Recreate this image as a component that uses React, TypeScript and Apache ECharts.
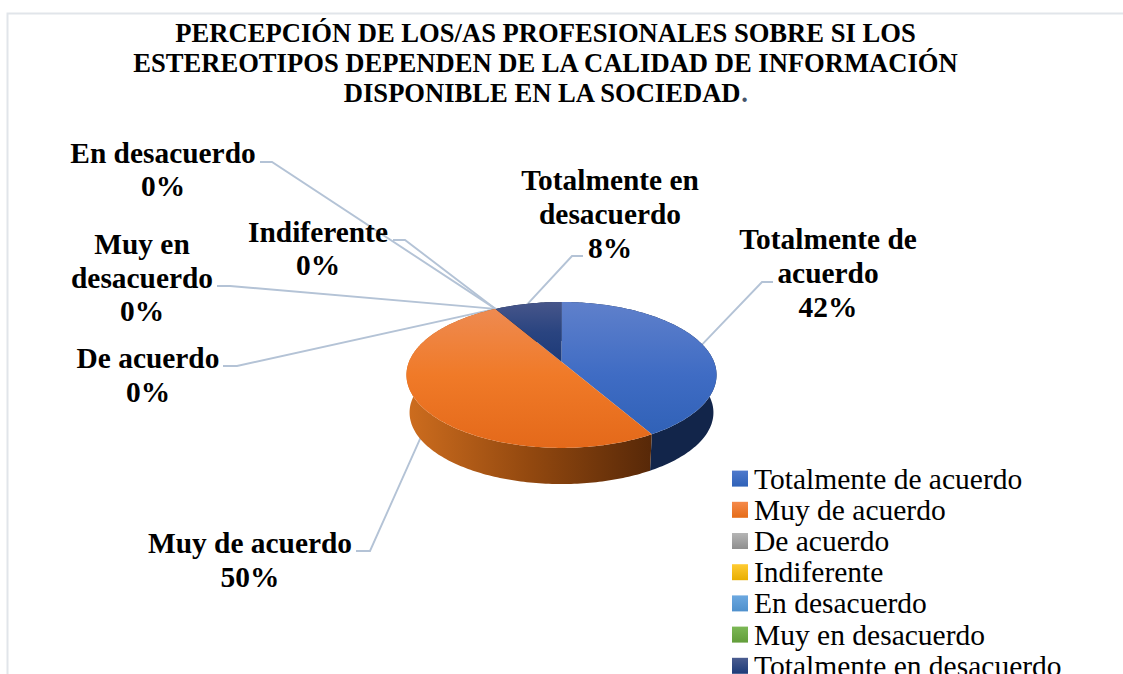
import React, { useEffect, useRef } from "react";
import * as echarts from "echarts";

const categories = [
  "Totalmente de acuerdo",
  "Muy de acuerdo",
  "De acuerdo",
  "Indiferente",
  "En desacuerdo",
  "Muy en desacuerdo",
  "Totalmente en desacuerdo",
];
const values = [5, 6, 0, 0, 0, 0, 1];
const labelTexts = [
  "Totalmente de\nacuerdo",
  "Muy de acuerdo",
  "De acuerdo",
  "Indiferente",
  "En desacuerdo",
  "Muy en\ndesacuerdo",
  "Totalmente en\ndesacuerdo",
];
const titleLines = [
  "PERCEPCIÓN DE LOS/AS PROFESIONALES SOBRE SI LOS",
  "ESTEREOTIPOS DEPENDEN DE LA CALIDAD DE INFORMACIÓN",
  "DISPONIBLE EN LA SOCIEDAD",
];

// layout
const SERIF = '"Liberation Serif", "Times New Roman", serif';
const CX = 561.5, CY = 361.8, RX = 152.5, RY = 70.6, K = 0.18;
const DEPTH = 37.9, BOTTOM_SCALE = 0.98;
const LEADER = "#b4c3d6";
const labelPos = [
  [828, 273], [250, 560], [148, 375], [318, 248.5], [163, 169.5], [142, 277.5], [610, 214],
];
const elbows = [
  [[762, 282], [773, 282]],
  [[370, 551], [356, 551]],
  [[237, 366], [223, 366]],
  [[405, 240], [393, 240]],
  [[272, 162], [260, 162]],
  [[230, 286], [217, 286]],
  [[572, 256], [583, 256]],
];
const anchorRadius = [1, 0.85, 1, 1, 1, 1, 1];

const topFill = [
  ["#5f80cb", "#3f6cc4", "#2d5fb4"],
  ["#ee8c55", "#f07a28", "#e4691a"],
  ["#b0b0b0", "#a5a5a5", "#909090"],
  ["#ffcf40", "#ffc000", "#e5ac00"],
  ["#78aee0", "#5b9bd5", "#4a88c2"],
  ["#80bb5a", "#70ad47", "#5f9a38"],
  ["#47568a", "#2a4480", "#1c3a78"],
];
const topGradientEnd = [448, 448, 448, 448, 448, 448, 362];
const wallFill = [
  ["#152a52", "#14284e", "#12254a"],
  ["#cc6c1e", "#92480f", "#572808"],
  ["#888888", "#666666", "#444444"],
  ["#bb8c00", "#997000", "#705200"],
  ["#446f9a", "#355a80", "#254060"],
  ["#527f34", "#406428", "#2f4a1c"],
  ["#101f40", "#101f40", "#101f40"],
];
const legendFill = [
  ["#4f79cc", "#2f62b8"],
  ["#f58a4b", "#e56c17"],
  ["#b5b5b5", "#8f8f8f"],
  ["#ffcb33", "#e8ae00"],
  ["#6ca8e0", "#4f90cc"],
  ["#7cb855", "#629d3a"],
  ["#4a5c90", "#1c3a78"],
];

const total = values.reduce((a, b) => a + b, 0);

function project(deg: number, r = 1) {
  const t = (deg * Math.PI) / 180;
  const X = Math.sin(t) * r;
  const Z = Math.cos(t) * r;
  const s = 1 / (1 + K * Z);
  return [CX + RX * X * s, CY - RY * Z * s];
}
function lowered(p: number[]) {
  return [CX + (p[0] - CX) * BOTTOM_SCALE, CY + (p[1] - CY) * BOTTOM_SCALE + DEPTH];
}
function arc(a0: number, a1: number) {
  const pts: number[][] = [];
  const n = Math.max(1, Math.ceil(Math.abs(a1 - a0)));
  for (let i = 0; i <= n; i++) pts.push(project(a0 + ((a1 - a0) * i) / n));
  return pts;
}
function grad(x0: number, y0: number, x1: number, y1: number, c: string[]) {
  const stops = c.map((color, i) => ({ offset: i / (c.length - 1), color }));
  return new echarts.graphic.LinearGradient(x0, y0, x1, y1, stops, true as any);
}

function makeRenderItem(idx: number) {
  return (_params: any, api: any) => {
    const value = api.value(0);
    const before = values.slice(0, idx).reduce((a, b) => a + b, 0);
    const a0 = (before / total) * 360;
    const a1 = ((before + value) / total) * 360;
    const mid = (a0 + a1) / 2;
    const children: any[] = [];

    const anchor = project(mid, anchorRadius[idx]);
    const elbow = elbows[idx];
    children.push({
      type: "polyline",
      z2: 1,
      shape: { points: [anchor, elbow[0], elbow[1]] },
      style: { stroke: LEADER, lineWidth: 1.9, fill: "none" },
    });

    if (value > 0) {
      const rim = arc(a0, a1);
      children.push({
        type: "polygon",
        z2: 2,
        shape: { points: rim.concat(rim.slice().reverse().map(lowered)) },
        style: { fill: grad(410, 0, 652, 0, wallFill[idx]), stroke: "none" },
      });
      children.push({
        type: "polygon",
        z2: 3,
        shape: { points: [[CX, CY], ...rim] },
        style: { fill: grad(0, 302, 0, topGradientEnd[idx], topFill[idx]), stroke: "none" },
      });
    }

    children.push({
      type: "text",
      z2: 4,
      x: labelPos[idx][0],
      y: labelPos[idx][1],
      style: {
        text: `${labelTexts[idx]}\n${Math.round((value / total) * 100)}%`,
        font: `bold 29.4px ${SERIF}`,
        fill: "#000000",
        align: "center",
        verticalAlign: "middle",
        lineHeight: 33.7,
      },
    });
    return { type: "group", children };
  };
}

const titleRich = { fontFamily: SERIF, fontWeight: "bold" as const, fontSize: 26.6, lineHeight: 30 };

export default function App() {
  const ref = useRef<HTMLDivElement>(null);
  useEffect(() => {
    document.body.style.margin = "0";
    document.body.style.background = "#ffffff";
    const chart = echarts.init(ref.current!, null, { renderer: "svg" });
    chart.setOption({
      animation: false,
      backgroundColor: "#ffffff",
      title: {
        text: `{t|${titleLines[0]}}\n{t|${titleLines[1]}}\n{t|${titleLines[2]}}{d|.}`,
        left: 540.5,
        top: 13,
        textAlign: "center",
        textStyle: {
          rich: {
            t: { ...titleRich, color: "#000000" },
            d: { ...titleRich, color: "#44546a" },
          },
        },
      },
      legend: {
        orient: "vertical",
        left: 732,
        top: 463,
        height: 300,
        itemWidth: 16,
        itemHeight: 16,
        itemGap: 0,
        padding: 0,
        icon: "rect",
        selectedMode: false,
        textStyle: {
          fontFamily: SERIF,
          fontSize: 29.5,
          color: "#000000",
          lineHeight: 31.2,
          height: 31.2,
          padding: [0, 0, 0, 1],
        },
        data: categories.map((name, i) => ({
          name,
          itemStyle: { color: new echarts.graphic.LinearGradient(0, 0, 0, 1, [
            { offset: 0, color: legendFill[i][0] },
            { offset: 1, color: legendFill[i][1] },
          ]) },
        })),
      },
      graphic: [
        {
          type: "rect",
          silent: true,
          z: -1,
          shape: { x: 7.5, y: 13.5, width: 1200, height: 800 },
          style: { fill: "none", stroke: "#e1e5ea", lineWidth: 2 },
        },
      ],
      series: categories.map((name, i) => ({
        type: "custom",
        name,
        coordinateSystem: "none",
        data: [values[i]],
        itemStyle: { color: legendFill[i][0] },
        renderItem: makeRenderItem(i),
      })),
    });
    return () => chart.dispose();
  }, []);
  return <div ref={ref} style={{ position: "absolute", left: 0, top: 0, width: 1123, height: 674 }} />;
}
